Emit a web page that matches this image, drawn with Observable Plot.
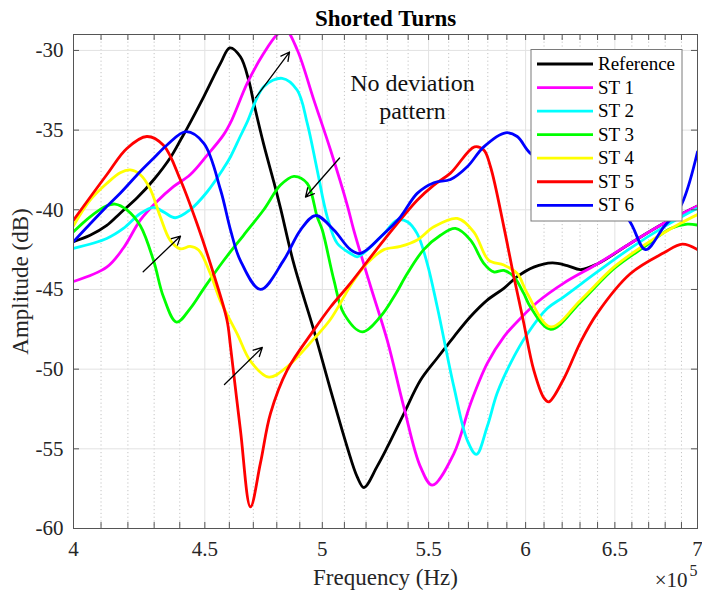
<!DOCTYPE html>
<html>
<head>
<meta charset="utf-8">
<script src="https://cdn.jsdelivr.net/npm/d3@7"></script>
<script src="https://cdn.jsdelivr.net/npm/@observablehq/plot@0.6"></script>
<style>
  html, body { margin: 0; padding: 0; background: #fff; }
  #chart svg { display: block; }
</style>
</head>
<body>
<div id="chart"></div>
<script>
// Frequency in units of 1e5 Hz, amplitude in dB: [frequency, amplitude]
const reference = [[4.000,-42.0],[4.060,-41.6],[4.120,-41.0],[4.172,-40.2],[4.235,-39.25],[4.299,-38.1],[4.364,-36.7],[4.403,-35.62],[4.429,-34.89],[4.496,-32.9],[4.564,-30.8],[4.602,-29.84],[4.646,-30.4],[4.681,-31.9],[4.702,-33.3],[4.744,-35.9],[4.788,-38.3],[4.816,-39.9],[4.874,-43.4],[4.962,-47.55],[5.037,-51.3],[5.113,-54.9],[5.159,-56.76],[5.190,-57.43],[5.252,-56.1],[5.300,-54.9],[5.379,-52.8],[5.460,-50.7],[5.543,-49.3],[5.626,-47.97],[5.711,-46.7],[5.797,-45.67],[5.884,-44.93],[5.955,-44.2],[6.044,-43.6],[6.145,-43.33],[6.228,-43.5],[6.303,-43.75],[6.398,-43.4],[6.592,-42.1],[6.792,-40.85],[7.000,-39.77]];
const st1 = [[4.000,-44.5],[4.121,-43.6],[4.183,-42.4],[4.247,-40.65],[4.310,-39.5],[4.375,-38.55],[4.441,-37.8],[4.508,-36.6],[4.576,-35.3],[4.610,-34.37],[4.674,-32.07],[4.744,-30.18],[4.802,-29.0],[4.838,-28.7],[4.889,-29.97],[4.962,-33.1],[5.037,-36.25],[5.113,-39.7],[5.143,-41.27],[5.221,-44.8],[5.300,-48.2],[5.379,-52.37],[5.460,-56.13],[5.518,-57.28],[5.626,-55.3],[5.711,-52.15],[5.797,-49.64],[5.884,-47.97],[5.973,-46.8],[6.063,-45.8],[6.209,-44.6],[6.398,-43.4],[6.592,-42.1],[6.792,-40.85],[7.000,-39.77]];
const st2 = [[4.000,-42.42],[4.121,-41.8],[4.183,-41.17],[4.247,-40.23],[4.298,-39.85],[4.336,-40.13],[4.382,-40.5],[4.441,-40.0],[4.508,-38.9],[4.576,-37.4],[4.605,-36.67],[4.645,-35.4],[4.674,-34.5],[4.744,-32.28],[4.823,-31.75],[4.889,-32.5],[4.933,-34.58],[4.977,-37.5],[5.022,-40.44],[5.067,-42.1],[5.128,-42.74],[5.159,-42.95],[5.205,-42.53],[5.284,-41.5],[5.347,-40.65],[5.396,-40.75],[5.444,-41.5],[5.493,-43.36],[5.543,-46.1],[5.626,-51.1],[5.694,-54.46],[5.741,-55.35],[5.797,-53.6],[5.849,-51.5],[5.919,-49.64],[6.009,-47.8],[6.117,-46.2],[6.209,-45.46],[6.398,-43.9],[6.592,-42.4],[6.792,-41.07],[7.000,-39.9]];
const st3 = [[4.000,-41.38],[4.060,-40.44],[4.121,-39.75],[4.152,-39.64],[4.196,-40.0],[4.247,-41.0],[4.298,-43.2],[4.336,-45.46],[4.387,-47.05],[4.441,-46.2],[4.495,-44.96],[4.576,-43.2],[4.659,-41.6],[4.744,-40.0],[4.816,-38.45],[4.874,-37.9],[4.933,-38.35],[4.977,-40.44],[5.000,-41.27],[5.052,-44.4],[5.097,-46.5],[5.182,-47.66],[5.268,-46.7],[5.339,-45.3],[5.396,-44.0],[5.476,-42.5],[5.559,-41.6],[5.634,-41.17],[5.711,-41.9],[5.779,-43.36],[5.831,-43.9],[5.884,-43.8],[5.937,-44.2],[5.990,-45.25],[6.026,-46.1],[6.136,-47.5],[6.303,-45.8],[6.494,-43.7],[6.691,-42.2],[6.833,-41.17],[6.936,-40.9],[7.000,-40.96]];
const st4 = [[4.000,-41.0],[4.060,-39.4],[4.121,-38.35],[4.171,-37.67],[4.209,-37.5],[4.247,-37.8],[4.285,-38.7],[4.323,-40.4],[4.362,-41.9],[4.402,-42.45],[4.441,-42.3],[4.475,-42.53],[4.522,-44.0],[4.562,-45.67],[4.633,-47.8],[4.688,-49.5],[4.766,-50.5],[4.845,-49.85],[4.962,-48.1],[5.037,-46.87],[5.140,-44.5],[5.205,-43.36],[5.284,-42.5],[5.363,-42.3],[5.444,-41.9],[5.526,-41.07],[5.643,-40.54],[5.728,-41.4],[5.804,-43.16],[5.884,-43.47],[5.955,-44.0],[6.009,-45.25],[6.136,-47.35],[6.303,-45.67],[6.494,-43.6],[6.691,-42.1],[6.894,-40.85],[7.000,-40.3]];
const st5 = [[4.000,-40.65],[4.121,-37.8],[4.196,-36.15],[4.272,-35.4],[4.336,-35.95],[4.402,-38.1],[4.468,-40.85],[4.535,-44.0],[4.590,-46.9],[4.605,-48.6],[4.646,-53.83],[4.688,-58.64],[4.730,-55.9],[4.773,-52.78],[4.845,-50.06],[4.962,-47.55],[5.037,-46.1],[5.128,-44.6],[5.284,-41.9],[5.444,-39.4],[5.526,-38.45],[5.609,-37.7],[5.731,-36.05],[5.779,-36.25],[5.814,-37.3],[5.884,-41.07],[5.937,-44.2],[5.964,-45.67],[5.990,-47.1],[6.044,-50.06],[6.099,-51.8],[6.126,-52.05],[6.209,-50.6],[6.303,-48.3],[6.398,-46.5],[6.592,-44.0],[6.792,-42.7],[6.905,-42.15],[7.000,-42.5]];
const st6 = [[4.000,-42.0],[4.121,-39.8],[4.172,-38.95],[4.247,-37.6],[4.299,-36.75],[4.349,-35.95],[4.425,-35.1],[4.496,-35.83],[4.564,-38.76],[4.605,-41.27],[4.645,-43.16],[4.730,-45.0],[4.830,-43.16],[4.903,-41.27],[4.970,-40.36],[5.052,-41.27],[5.128,-42.5],[5.174,-42.74],[5.284,-41.5],[5.363,-40.44],[5.444,-38.97],[5.526,-38.3],[5.609,-38.1],[5.694,-37.3],[5.779,-36.05],[5.893,-35.17],[5.955,-35.4],[6.026,-36.46],[6.200,-37.6],[6.400,-38.8],[6.582,-40.65],[6.681,-42.5],[6.792,-41.07],[6.894,-39.8],[7.000,-36.36]];

const seriesNames = ["Reference", "ST 1", "ST 2", "ST 3", "ST 4", "ST 5", "ST 6"];
const seriesColors = ["#000000", "#ff00ff", "#00ffff", "#00ff00", "#ffff00", "#ff0000", "#0000ff"];
const seriesData = [reference, st1, st2, st3, st4, st5, st6];

const xMajorTicks = [4, 4.5, 5, 5.5, 6, 6.5, 7];
const xMinorTicks = [4.1, 4.2, 4.3, 4.4, 4.6, 4.7, 4.8, 4.9, 5.1, 5.2, 5.3, 5.4, 5.6, 5.7, 5.8, 5.9, 6.1, 6.2, 6.3, 6.4, 6.6, 6.7, 6.8, 6.9];
const yMajorTicks = [-60, -55, -50, -45, -40, -35, -30];

// Arrow annotations: [x1, y1, x2, y2] in data units
const arrows = [[4.709, -32.97, 4.855, -30.10], [5.078, -36.75, 4.925, -39.20], [4.258, -43.89, 4.403, -41.65], [4.580, -50.96, 4.738, -48.64]];
const note = {x: 5.421, y: -32.84, text: "No deviation\npattern"};

const W = 702, H = 598;
const M = {top: 34, right: 5, bottom: 70, left: 73};
const frameW = W - M.left - M.right;
const frameH = H - M.top - M.bottom;
const font = "'Liberation Serif', 'Times New Roman', serif";
const ink = "#262626";
const axisInk = "#555555";
const tickLen = 6;
const txt = {fontFamily: font, lineAnchor: "middle"};

const marks = [
  Plot.ruleX(xMinorTicks, {x: d => d, stroke: "#c4c4c4", strokeDasharray: "1.2,2.6"}),
  Plot.ruleX(xMajorTicks, {x: d => d, stroke: "#e2e2e2"}),
  Plot.ruleY(yMajorTicks, {y: d => d, stroke: "#e2e2e2"}),
  ...seriesData.map((pts, i) => Plot.line(pts, {
    x: d => d[0], y: d => d[1], stroke: seriesColors[i], strokeWidth: 2.8,
    curve: "catmull-rom", clip: true
  })),
  Plot.arrow(arrows, {
    x1: d => d[0], y1: d => d[1], x2: d => d[2], y2: d => d[3],
    stroke: "#000", strokeWidth: 1.3, headLength: 11, headAngle: 55
  }),
  Plot.text([note], {...txt, x: "x", y: "y", text: "text", fontSize: 24, lineHeight: 1.2, fill: "#111"}),
  // inward ticks on all four sides
  Plot.tickX(xMajorTicks.concat(xMinorTicks), {x: d => d, stroke: axisInk, insetTop: frameH - tickLen}),
  Plot.tickX(xMajorTicks.concat(xMinorTicks), {x: d => d, stroke: axisInk, insetBottom: frameH - tickLen}),
  Plot.tickY(yMajorTicks, {y: d => d, stroke: axisInk, insetRight: frameW - tickLen}),
  Plot.tickY(yMajorTicks, {y: d => d, stroke: axisInk, insetLeft: frameW - tickLen}),
  Plot.frame({stroke: axisInk, strokeWidth: 1}),
  // tick labels
  Plot.text(xMajorTicks, {...txt, x: d => d, text: d => String(d), frameAnchor: "bottom", dy: 21, textAnchor: "middle", fontSize: 21, fill: ink}),
  Plot.text(yMajorTicks, {...txt, y: d => d, text: d => String(d), frameAnchor: "left", dx: -10, textAnchor: "end", fontSize: 21, fill: ink}),
  // titles
  Plot.text(["Shorted Turns"], {...txt, frameAnchor: "top", dy: -15.7, textAnchor: "middle", fontSize: 23, fontWeight: "bold", fill: "#000"}),
  Plot.text(["Frequency (Hz)"], {...txt, frameAnchor: "bottom", dy: 49, textAnchor: "middle", fontSize: 23, fill: ink}),
  Plot.text(["Amplitude (dB)"], {...txt, frameAnchor: "left", dx: -53, rotate: -90, textAnchor: "middle", fontSize: 23, fill: ink}),
  Plot.text(["\u00d710"], {...txt, frameAnchor: "bottom-right", dx: -10, dy: 52, textAnchor: "end", fontSize: 21, fill: ink}),
  Plot.text(["5"], {...txt, frameAnchor: "bottom-right", dx: 0, dy: 42, textAnchor: "end", fontSize: 16, fill: ink})
];

const chart = Plot.plot({
  width: W,
  height: H,
  marginTop: M.top,
  marginRight: M.right,
  marginBottom: M.bottom,
  marginLeft: M.left,
  style: {fontFamily: font, background: "#fff", overflow: "visible"},
  x: {type: "log", domain: [4, 7], axis: null},
  y: {type: "linear", domain: [-60, -29], axis: null},
  marks
});

// Legend box in the upper-right corner of the axes
const legend = {x: 531, y: 49.5, w: 151, h: 171.5, rowStart: 64, rowStep: 23.55, lineX1: 537, lineX2: 593, textX: 598};
const g = d3.select(chart).append("g").attr("font-family", font).attr("text-anchor", "start");
g.append("rect")
  .attr("x", legend.x).attr("y", legend.y).attr("width", legend.w).attr("height", legend.h)
  .attr("fill", "#fff").attr("stroke", "#7a7a7a").attr("stroke-width", 1);
seriesNames.forEach((name, i) => {
  const cy = legend.rowStart + i * legend.rowStep;
  g.append("line").attr("x1", legend.lineX1).attr("x2", legend.lineX2).attr("y1", cy).attr("y2", cy)
    .attr("stroke", seriesColors[i]).attr("stroke-width", 2.8);
  g.append("text").attr("x", legend.textX).attr("y", cy).attr("dy", "0.32em")
    .attr("text-anchor", "start").attr("font-size", 19).attr("fill", "#000").text(name);
});

document.getElementById("chart").appendChild(chart);
</script>
</body>
</html>
